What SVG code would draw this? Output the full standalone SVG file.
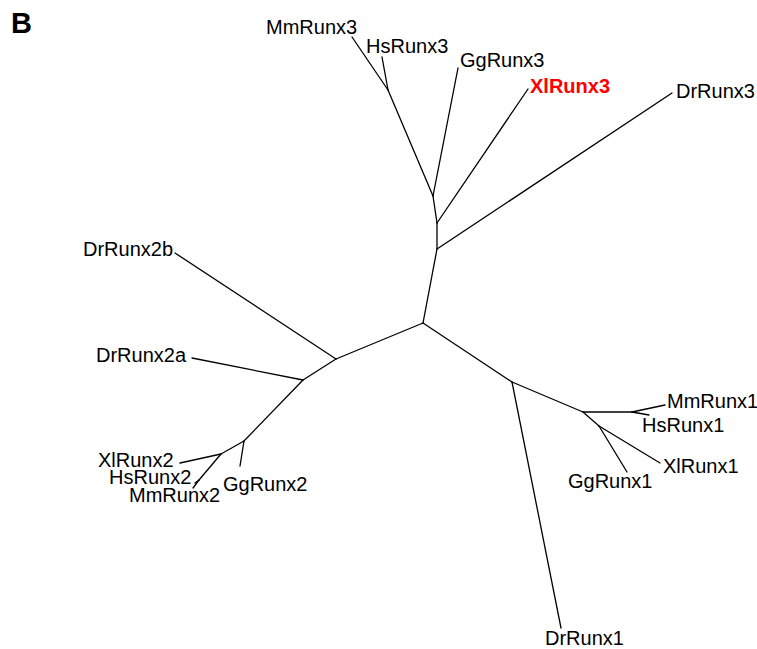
<svg xmlns="http://www.w3.org/2000/svg" width="757" height="649" viewBox="0 0 757 649">
<style>
.lbl{font-family:"Liberation Sans",Arial,sans-serif;font-size:20px;fill:#000}
.hl{font-weight:bold;fill:#ff0000}
.panel{font-family:"Liberation Sans",Arial,sans-serif;font-size:29px;font-weight:bold;fill:#000}
.br{stroke:#000;stroke-width:1.3;fill:none;stroke-linecap:round}
</style>
<rect width="757" height="649" fill="#fff"/>
<text class="panel" x="11" y="33">B</text>
<g id="connectors" class="br">
<path d="M423,323 L437,249"/>
<path d="M437,249 L672,93"/>
<path d="M437,249 L437,223"/>
<path d="M437,223 L528,89"/>
<path d="M437,223 L433,196"/>
<path d="M433,196 L458,68"/>
<path d="M433,196 L388,90"/>
<path d="M388,90 L352,37"/>
<path d="M388,90 L382,57"/>
<path d="M423,323 L336,359"/>
<path d="M336,359 L175,253"/>
<path d="M336,359 L303,380"/>
<path d="M303,380 L192,358"/>
<path d="M303,380 L244,441"/>
<path d="M244,441 L240,466"/>
<path d="M244,441 L221,454"/>
<path d="M221,454 L180,463"/>
<path d="M221,454 L199,480"/>
<path d="M199,480 L195,483"/>
<path d="M199,480 L193,488"/>
<path d="M423,323 L512,382"/>
<path d="M512,382 L561,628"/>
<path d="M512,382 L583,412"/>
<path d="M583,412 L632,412"/>
<path d="M632,412 L665,405"/>
<path d="M632,412 L649,415"/>
<path d="M583,412 L599,426"/>
<path d="M599,426 L660,463"/>
<path d="M599,426 L627,472"/>
</g>
<g id="MmRunx3"><text class="lbl" x="266" y="34">MmRunx3</text></g>
<g id="HsRunx3"><text class="lbl" x="366" y="53">HsRunx3</text></g>
<g id="GgRunx3"><text class="lbl" x="460" y="67">GgRunx3</text></g>
<g id="XlRunx3"><text class="lbl hl" x="530" y="93">XlRunx3</text></g>
<g id="DrRunx3"><text class="lbl" x="676" y="98">DrRunx3</text></g>
<g id="DrRunx2b"><text class="lbl" x="83" y="256">DrRunx2b</text></g>
<g id="DrRunx2a"><text class="lbl" x="96" y="362">DrRunx2a</text></g>
<g id="XlRunx2"><text class="lbl" x="98" y="467">XlRunx2</text></g>
<g id="HsRunx2"><text class="lbl" x="109" y="484">HsRunx2</text></g>
<g id="MmRunx2"><text class="lbl" x="129" y="502">MmRunx2</text></g>
<g id="GgRunx2"><text class="lbl" x="223" y="491">GgRunx2</text></g>
<g id="MmRunx1"><text class="lbl" x="667" y="408">MmRunx1</text></g>
<g id="HsRunx1"><text class="lbl" x="642" y="432">HsRunx1</text></g>
<g id="XlRunx1"><text class="lbl" x="663" y="473">XlRunx1</text></g>
<g id="GgRunx1"><text class="lbl" x="568" y="488">GgRunx1</text></g>
<g id="DrRunx1"><text class="lbl" x="545" y="645">DrRunx1</text></g>
</svg>
